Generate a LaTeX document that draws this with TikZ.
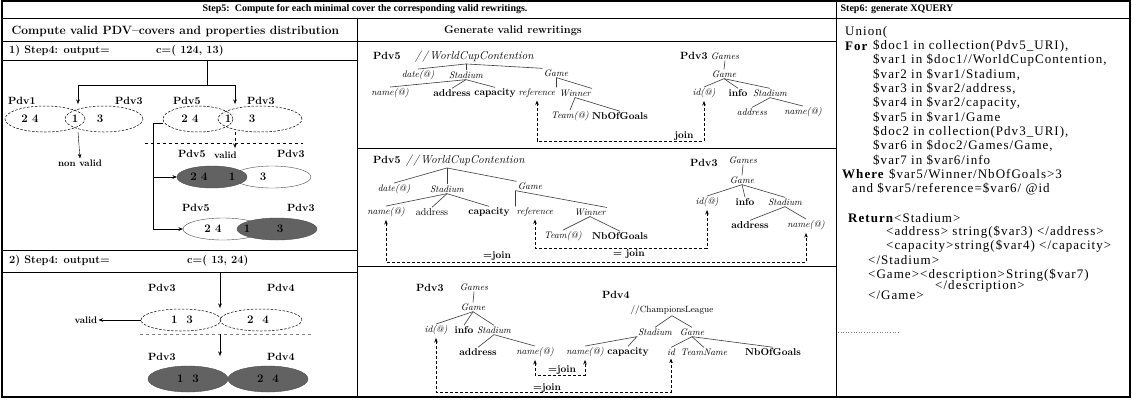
\documentclass[tikz,border=0pt]{standalone}
\usepackage{fontspec}
\newfontfamily\tms{Liberation Serif}
\usetikzlibrary{arrows.meta}

\definecolor{pdvgray}{RGB}{98,98,98}
\definecolor{treegray}{RGB}{60,60,60}

\begin{document}
\begin{tikzpicture}[x=1pt, y=-1pt, >={Stealth[length=4.5pt,width=3.5pt]},
  frame/.style={line width=0.8pt},
  hd/.style={font=\tms\bfseries\fontsize{10}{11}\selectfont},
  sec/.style={font=\bfseries\fontsize{12}{14}\selectfont},
  row/.style={font=\bfseries\fontsize{11}{13}\selectfont, inner sep=1pt, anchor=west},
  lab/.style={font=\bfseries\fontsize{10.5}{12}\selectfont, inner sep=1pt},
  pdv/.style={lab, anchor=west},
  small/.style={font=\bfseries\fontsize{9.5}{11}\selectfont, inner sep=1pt},
  num/.style={font=\bfseries\fontsize{11.5}{12}\selectfont, inner sep=1pt},
  tit/.style={font=\itshape\fontsize{9.5}{11}\selectfont, inner sep=1pt},
  root/.style={font=\itshape\fontsize{11.5}{13}\selectfont, inner sep=1pt, anchor=west},
  tbf/.style={font=\bfseries\fontsize{10}{11}\selectfont, inner sep=1pt},
  trm/.style={font=\fontsize{10}{11}\selectfont, inner sep=1pt},
  xq/.style={font=\tms\fontsize{13}{14}\selectfont\addfontfeature{LetterSpace=8}, anchor=west, inner sep=0pt},
  tedge/.style={draw=treegray, line width=0.6pt},
  jn/.style={dash pattern=on 3pt off 2pt, line width=0.6pt, shorten <=2pt, shorten >=2pt},
  dell/.style={dash pattern=on 2.5pt off 1.5pt, line width=0.5pt},
  ]
  \useasboundingbox (0,0) rectangle (1132,400);
  \fill[white] (0,0) rectangle (1132,400);

  % Table frame
  \draw[line width=1.2pt] (2,1) rectangle (1130,397);
  \draw[frame] (2,18) -- (1130,18);
  \draw[frame] (836,1) -- (836,397);
  \draw[frame] (2,41) -- (836,41);
  \draw[frame] (357,18) -- (357,397);
  \draw[frame] (2,60) -- (357,60);
  \draw[frame] (2,250) -- (357,250);
  \draw[frame] (2,272) -- (357,272);
  \draw[frame] (357,148) -- (836,148);
  \draw[frame] (357,266) -- (836,266);

  % Headings
  \node[hd] (step5) at (365,9) {Step5:\ \ Compute for each minimal cover the corresponding valid rewritings.};
  \node[hd] (step6) at (897,9) {Step6: generate XQUERY};
  \node[sec, anchor=west] (covers) at (8,31) {Compute valid PDV--covers and properties distribution};
  \node[lab, font=\bfseries\fontsize{11}{12}\selectfont] (rewr) at (513,31) {Generate valid rewritings};

  % 1) first cover
  \node[row] (out1) at (8,51) {1) Step4: output=};
  \node[row] (cov1) at (155,51) {c=( 124, 13)};
  \coordinate (c1top) at (207,60);
  \coordinate (c1mid) at (207,85);
  \coordinate (e1top) at (78,104);
  \coordinate (e2top) at (235,104);
  \draw (c1top) -- (c1mid);
  \draw[->] (c1mid) -| (e1top);
  \draw[->] (c1mid) -| (e2top);

  \node[pdv] (pdv1) at (7,101) {Pdv1};
  \node[pdv] (pdv3a) at (114,101) {Pdv3};
  \node[pdv] (pdv5a) at (172,101) {Pdv5};
  \node[pdv] (pdv3b) at (246,101) {Pdv3};

  \draw[dell] (45,119) ellipse [x radius=40pt, y radius=13pt];
  \draw[dell] (104,119) ellipse [x radius=39pt, y radius=13pt];
  \node[num] (n24a) at (30,119) {2 4};
  \node[num] (n1a) at (75,119) {1};
  \node[num] (n3a) at (100,119) {3};

  \draw[dell] (198,119) ellipse [x radius=35pt, y radius=13pt];
  \draw[dell] (260,119) ellipse [x radius=42pt, y radius=13pt];
  \node[num] (n24b) at (190,119) {2 4};
  \node[num] (n1b) at (228,119) {1};
  \node[num] (n3b) at (252,119) {3};

  % non valid / valid
  \coordinate (e1bot) at (78,132);
  \node[small] (nonval) at (80,163) {non valid};
  \draw[->] (e1bot) -- (nonval.north);

  \coordinate (e2w) at (163,123);
  \coordinate (e2bend) at (153,123);
  \coordinate (e2bot) at (235,132);
  \coordinate (e2val) at (235,148);
  \coordinate (e3w) at (177,177);
  \coordinate (e5w) at (183,229);
  \draw (e2w) -- (e2bend);
  \draw[->] (e2bend) |- (e3w);
  \draw[->] (e2bend) |- (e5w);
  \draw[dashed, ->] (e2bot) -- (e2val);
  \draw[dashed] (145,143) -- (303,143);

  \node[pdv] (pdv5b) at (177,154) {Pdv5};
  \node[small, anchor=west] (valid1) at (213,155) {valid};
  \node[pdv] (pdv3c) at (276,154) {Pdv3};
  \filldraw[fill=white, draw=black!70] (272,177) ellipse [x radius=39pt, y radius=11pt];
  \filldraw[fill=pdvgray, draw=black!70] (212,177) ellipse [x radius=35pt, y radius=11pt];
  \node[num] (n24c) at (199,177) {2 4};
  \node[num] (n1c) at (232,177) {1};
  \node[num] (n3c) at (263,177) {3};

  \node[pdv] (pdv5c) at (181,208) {Pdv5};
  \node[pdv] (pdv3d) at (286,208) {Pdv3};
  \filldraw[fill=white, draw=black!70] (223,229) ellipse [x radius=40pt, y radius=11pt];
  \filldraw[fill=pdvgray, draw=black!70] (277,229) ellipse [x radius=40pt, y radius=11pt];
  \node[num] (n24d) at (213,229) {2 4};
  \node[num] (n1d) at (247,229) {1};
  \node[num] (n3d) at (280,229) {3};

  % 2) second cover
  \node[row] (out2) at (8,261) {2) Step4: output=};
  \node[row] (cov2) at (186,261) {c=( 13, 24)};
  \node[pdv] (pdv3e) at (147,288) {Pdv3};
  \node[pdv] (pdv4a) at (266,288) {Pdv4};
  \draw[dell] (181,320) ellipse [x radius=40pt, y radius=11pt];
  \draw[dell] (261,320) ellipse [x radius=41pt, y radius=11pt];
  \node[num] (n13a) at (182,320) {1\ \ 3};
  \node[num] (n24e) at (258,320) {2\ \ 4};
  \node[small] (valid2) at (86,320) {valid};
  \coordinate (f1top) at (220,272);
  \coordinate (f1tip) at (220,308);
  \coordinate (f1w) at (141,320);
  \coordinate (f1bot) at (220,334);
  \coordinate (f2tip) at (220,356);
  \draw[->] (f1top) -- (f1tip);
  \draw[->] (f1w) -- (valid2.east);
  \draw[dashed, gray] (140,334) -- (312,334);
  \draw[->] (f1bot) -- (f2tip);
  \node[pdv] (pdv3f) at (147,357) {Pdv3};
  \node[pdv] (pdv4b) at (266,357) {Pdv4};
  \filldraw[fill=pdvgray, draw=black!70] (188,379) ellipse [x radius=40pt, y radius=13pt];
  \filldraw[fill=pdvgray, draw=black!70] (268,379) ellipse [x radius=40pt, y radius=13pt];
  \node[num] (n13b) at (188,379) {1\ \ 3};
  \node[num] (n24f) at (268,379) {2\ \ 4};

  % Rewriting 1: Pdv5 and Pdv3
  \node[pdv] (p1pdv5) at (372,56) {Pdv5};
  \node[root] (p1wc) at (414,57) {/\kern1.5pt/\kern1.5pt WorldCupContention};
  \node[tit] (p1date) at (418,75) {date(@)};
  \node[tit] (p1stad) at (466,75) {Stadium};
  \node[tit] (p1game) at (556,73) {Game};
  \node[tit] (p1name) at (390,93) {name(@)};
  \node[tbf] (p1addr) at (452,93) {address};
  \node[tbf] (p1cap) at (495,93) {capacity};
  \node[tit] (p1ref) at (537,93) {reference};
  \node[tit] (p1win) at (575,93) {Winner};
  \node[tit] (p1team) at (570,116) {Team(@)};
  \node[tbf] (p1nb) at (620,116) {NbOfGoals};
  \draw[tedge] (p1date.north) -- (p1stad.north |- p1wc.south) -- (p1game.north west);
  \draw[tedge] (p1stad.north |- p1wc.south) -- (p1stad.north);
  \draw[tedge] (p1name.north) -- (p1stad.south) -- (p1cap.north);
  \draw[tedge] (p1stad.south) -- (p1addr.north);
  \draw[tedge] (p1ref.north east) -- (p1ref.north east |- p1game.south) -- (p1win.north east);
  \draw[tedge] (p1team.north) -- (p1win.south) -- (p1nb.north);

  \node[pdv] (p1pdv3) at (679,56) {Pdv3};
  \node[tit] (p1games) at (725,56) {Games};
  \node[tit] (p1game2) at (724,74) {Game};
  \node[tit] (p1id) at (704,93) {id(@)};
  \node[tbf] (p1info) at (738,93) {info};
  \node[tit] (p1stad2) at (770,93) {Stadium};
  \node[tit] (p1addr2) at (752,112) {address};
  \node[tit] (p1name2) at (803,112) {name(@)};
  \draw[tedge] (p1games.south) -- (p1game2.north);
  \draw[tedge] (p1id.north) -- (p1game2.south) -- (p1stad2.north);
  \draw[tedge] (p1game2.south) -- (p1info.north);
  \draw[tedge] (p1addr2.north) -- (p1stad2.south) -- (p1name2.north);

  \coordinate (p1jy) at (0,141);
  \draw[jn, <->] (p1ref.south) -- (p1ref.south |- p1jy) -| (p1id.south);
  \node[tbf] (p1join) at (684,136) {join};

  % Rewriting 2: Pdv5 and Pdv3
  \node[pdv] (p2pdv5) at (372,160) {Pdv5};
  \node[root] (p2wc) at (405,161) {/\kern1.5pt/\kern1.5pt WorldCupContention};
  \node[tit] (p2date) at (394,189) {date(@)};
  \node[tit] (p2stad) at (447,189) {Stadium};
  \node[tit] (p2game) at (530,186) {Game};
  \node[tit] (p2name) at (386,212) {name(@)};
  \node[trm] (p2addr) at (432,212) {address};
  \node[tbf] (p2cap) at (489,212) {capacity};
  \node[tit] (p2ref) at (535,212) {reference};
  \node[tit] (p2win) at (590,212) {Winner};
  \node[tit] (p2team) at (563,236) {Team(@)};
  \node[tbf] (p2nb) at (620,236) {NbOfGoals};
  \draw[tedge] (p2date.north) -- (p2stad.north |- p2wc.south) -- (p2game.north west);
  \draw[tedge] (p2stad.north |- p2wc.south) -- (p2stad.north);
  \draw[tedge] (p2name.north) -- (p2stad.south) -- (p2cap.north);
  \draw[tedge] (p2stad.south) -- (p2addr.north);
  \draw[tedge] (p2ref.north west) -- (p2ref.north west |- p2game.south) -- (p2win.north east);
  \draw[tedge] (p2team.north) -- (p2win.south) -- (p2nb.north);

  \node[pdv] (p2pdv3) at (689,163) {Pdv3};
  \node[tit] (p2games) at (743,160) {Games};
  \node[tit] (p2game2) at (742,180) {Game};
  \node[tit] (p2id) at (707,202) {id(@)};
  \node[tbf] (p2info) at (745,202) {info};
  \node[tit] (p2stad2) at (785,202) {Stadium};
  \node[tbf] (p2addr2) at (750,225) {address};
  \node[tit] (p2name2) at (806,225) {name(@)};
  \draw[tedge] (p2games.south) -- (p2game2.north);
  \draw[tedge] (p2id.north) -- (p2game2.south) -- (p2stad2.north);
  \draw[tedge] (p2game2.south) -- (p2info.north);
  \draw[tedge] (p2addr2.north) -- (p2stad2.south) -- (p2name2.north);

  \coordinate (p2jy) at (0,248);
  \coordinate (p2ky) at (0,262);
  \draw[jn, <->] (p2ref.south) -- (p2ref.south |- p2jy) -| (p2id.south);
  \draw[jn, <->] (p2name.south) -- (p2name.south |- p2ky) -| (p2name2.south);
  \node[tbf] (p2join1) at (629,254) {= join};
  \node[tbf] (p2join2) at (497,256) {=join};

  % Rewriting 3: Pdv3 and Pdv4
  \node[pdv] (p3pdv3) at (415,288) {Pdv3};
  \node[tit] (p3games) at (474,287) {Games};
  \node[tit] (p3game) at (473,307) {Game};
  \node[tit] (p3id) at (436,330) {id(@)};
  \node[tbf] (p3info) at (464,330) {info};
  \node[tit] (p3stad) at (494,330) {Stadium};
  \node[tbf] (p3addr) at (478,352) {address};
  \node[tit] (p3name) at (535,352) {name(@)};
  \draw[tedge] (p3games.south) -- (p3game.north);
  \draw[tedge] (p3id.north) -- (p3game.south) -- (p3stad.north);
  \draw[tedge] (p3game.south) -- (p3info.north);
  \draw[tedge] (p3addr.north) -- (p3stad.south) -- (p3name.north);

  \node[pdv] (p3pdv4) at (601,295) {Pdv4};
  \node[trm, font=\fontsize{9}{10}\selectfont] (p3cl) at (672,310) {//ChampionsLeague};
  \node[tit] (p3stadb) at (655,332) {Stadium};
  \node[tit] (p3gameb) at (692,332) {Game};
  \node[tit] (p3nameb) at (585,352) {name(@)};
  \node[tbf] (p3capb) at (628,352) {capacity};
  \node[tit] (p3idb) at (671,352) {id};
  \node[tit] (p3team) at (704,352) {TeamName};
  \node[tbf] (p3nbb) at (773,352) {NbOfGoals};
  \draw[tedge] (p3stadb.north) -- (p3cl.south) -- (p3gameb.north);
  \draw[tedge] (p3nameb.north) -- (p3stadb.south west) -- (p3capb.north);
  \draw[tedge] (p3idb.north) -- (p3gameb.south) -- (p3team.north);
  \draw[tedge] (p3gameb.south) -- (p3nbb.north);

  \coordinate (p3jy) at (0,375);
  \coordinate (p3ky) at (0,392);
  \draw[jn, <->] (p3name.south) -- (p3name.south |- p3jy) -| (p3nameb.south);
  \draw[jn, <->] (p3id.south) -- (p3id.south |- p3ky) -| (p3idb.south);
  \node[tbf] (p3join1) at (562,370) {=join};
  \node[tbf] (p3join2) at (547,388) {=join};

  % XQUERY
  \node[xq] (q0) at (845,32) {Union(};
  \node[xq] (q1a) at (845,46) {\textbf{For}};
  \node[xq] (q1) at (873,46) {\$doc1 in collection(Pdv5\_URI),};
  \node[xq] (q2) at (873,60.3) {\$var1 in \$doc1//WorldCupContention,};
  \node[xq] (q3) at (873,74.6) {\$var2 in \$var1/Stadium,};
  \node[xq] (q4) at (873,88.9) {\$var3 in \$var2/address,};
  \node[xq] (q5) at (873,103.2) {\$var4 in \$var2/capacity,};
  \node[xq] (q6) at (873,117.5) {\$var5 in \$var1/Game};
  \node[xq] (q7) at (873,131.8) {\$doc2 in collection(Pdv3\_URI),};
  \node[xq] (q8) at (873,146.1) {\$var6 in \$doc2/Games/Game,};
  \node[xq] (q9) at (873,160.4) {\$var7 in \$var6/info};
  \node[xq] (q10) at (842,174.7) {\textbf{Where} \$var5/Winner/NbOfGoals>3};
  \node[xq] (q11) at (852,189) {and \$var5/reference=\$var6/ @id};
  \node[xq] (q12) at (848,218) {\textbf{Return}<Stadium>};
  \node[xq] (q13) at (886,232) {<address> string(\$var3) </address>};
  \node[xq] (q14) at (886,246) {<capacity>string(\$var4) </capacity>};
  \node[xq] (q15) at (868,260.5) {</Stadium>};
  \node[xq] (q16) at (868,275) {<Game><description>String(\$var7)};
  \node[xq] (q17) at (935,286) {</description>};
  \node[xq] (q18) at (868,295) {</Game>};
  \draw[dotted, gray, line width=0.6pt] (838,332) -- (900,332);
\end{tikzpicture}
\end{document}
